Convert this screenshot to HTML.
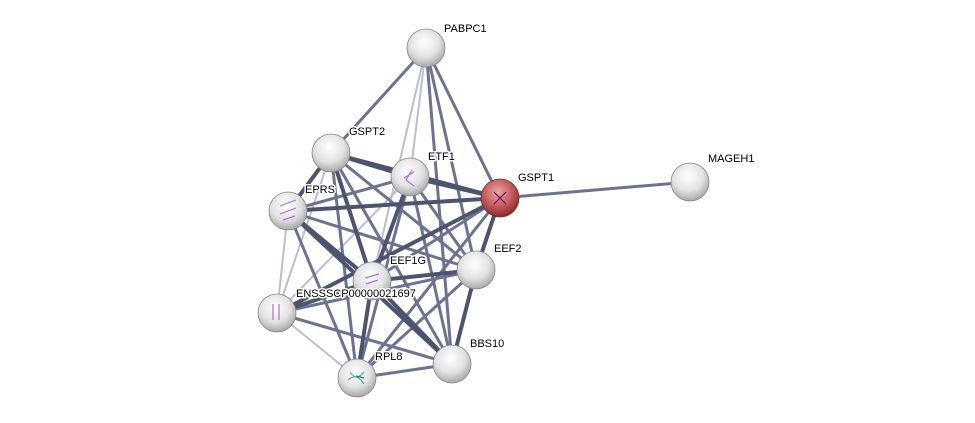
<!DOCTYPE html>
<html><head><meta charset="utf-8"><style>
html,body{margin:0;padding:0;background:#fff;}
svg{display:block;}
text{font-family:"Liberation Sans",sans-serif;font-size:11px;fill:#000;}
</style></head><body>
<svg width="975" height="423" viewBox="0 0 975 423" xmlns="http://www.w3.org/2000/svg">
<defs>
<radialGradient id="g" cx="45%" cy="35%" r="65%">
<stop offset="0" stop-color="#ffffff"/><stop offset="0.6" stop-color="#e2e2e2"/><stop offset="1" stop-color="#a8a8a8"/>
</radialGradient>
<radialGradient id="r" cx="45%" cy="35%" r="65%">
<stop offset="0" stop-color="#e9a6a6"/><stop offset="0.6" stop-color="#c25858"/><stop offset="1" stop-color="#8a2a2a"/>
</radialGradient>
</defs>
<g stroke-linecap="round">
<!-- light edges -->
<g stroke="#b9bfcf" stroke-width="2">
<line x1="426" y1="48" x2="410" y2="177"/>
<line x1="426" y1="48" x2="372" y2="281"/>
<line x1="288" y1="211" x2="277" y2="313"/>
<line x1="277" y1="313" x2="357" y2="378"/>
<line x1="277" y1="313" x2="410" y2="177"/>
<line x1="331" y1="153" x2="277" y2="313"/>
</g>
<g stroke="#6c7390" stroke-width="3">
<line x1="426" y1="48" x2="331" y2="153"/>
<line x1="426" y1="48" x2="500" y2="198"/>
<line x1="426" y1="48" x2="476" y2="270"/>
<line x1="426" y1="48" x2="452" y2="364"/>
<line x1="277" y1="313" x2="452" y2="364"/>
<line x1="277" y1="313" x2="476" y2="270"/>
<line x1="277" y1="313" x2="500" y2="198"/>
<line x1="357" y1="378" x2="476" y2="270"/>
<line x1="357" y1="378" x2="500" y2="198"/>
<line x1="357" y1="378" x2="452" y2="364"/>
<line x1="372" y1="281" x2="500" y2="198"/>
<line x1="410" y1="177" x2="452" y2="364"/>
<line x1="410" y1="177" x2="476" y2="270"/>
<line x1="331" y1="153" x2="452" y2="364"/>
<line x1="331" y1="153" x2="476" y2="270"/>
<line x1="288" y1="211" x2="476" y2="270"/>
<line x1="288" y1="211" x2="357" y2="378"/>
<line x1="410" y1="177" x2="357" y2="378"/>
<line x1="331" y1="153" x2="357" y2="378"/>
<line x1="500" y1="198" x2="690" y2="182"/>
<line x1="288" y1="211" x2="410" y2="177"/>
</g>
<g stroke="#4d546f" stroke-width="4">
<line x1="331" y1="153" x2="410" y2="177"/>
<line x1="331" y1="153" x2="500" y2="198"/>
<line x1="331" y1="153" x2="288" y2="211"/>
<line x1="331" y1="153" x2="372" y2="281"/>
<line x1="410" y1="177" x2="500" y2="198"/>
<line x1="410" y1="177" x2="372" y2="281"/>
<line x1="288" y1="211" x2="500" y2="198"/>
<line x1="288" y1="211" x2="372" y2="281"/>
<line x1="288" y1="211" x2="452" y2="364"/>
<line x1="500" y1="198" x2="476" y2="270"/>
<line x1="476" y1="270" x2="452" y2="364"/>
<line x1="372" y1="281" x2="476" y2="270"/>
<line x1="372" y1="281" x2="452" y2="364"/>
<line x1="372" y1="281" x2="357" y2="378"/>
<line x1="372" y1="281" x2="277" y2="313"/>
<line x1="500" y1="198" x2="277" y2="313"/>
</g>
</g>
<g stroke="#888" stroke-width="0.8">
<circle cx="426" cy="48" r="19" fill="url(#g)"/>
<circle cx="331" cy="153" r="19" fill="url(#g)"/>
<circle cx="410" cy="177" r="19" fill="url(#g)"/>
<circle cx="500" cy="198" r="19" fill="url(#r)" stroke="#7a2a2a"/>
<circle cx="690" cy="182" r="19" fill="url(#g)"/>
<circle cx="288" cy="211" r="19" fill="url(#g)"/>
<circle cx="476" cy="270" r="19" fill="url(#g)"/>
<circle cx="372" cy="281" r="19" fill="url(#g)"/>
<circle cx="277" cy="313" r="19" fill="url(#g)"/>
<circle cx="452" cy="364" r="19" fill="url(#g)"/>
<circle cx="357" cy="378" r="19" fill="url(#g)"/>
</g>
<g fill="none" stroke-width="1.2">
<path d="M280 206 l16 -6 M280 214 l16 -6 M283 220 l12 -4" stroke="#b070d8"/>
<path d="M412 170 l-6 10 l8 6 M404 178 l10 -6" stroke="#b070d8"/>
<path d="M365 278 l14 -4 M366 284 l12 -4" stroke="#b070d8"/>
<path d="M273 304 v16 M279 304 v16" stroke="#b070d8"/>
<path d="M494 192 l12 12 M506 192 l-12 12" stroke="#6a1070"/>
<path d="M350 372 q6 10 14 0 M348 380 q8 -8 16 4" stroke="#40c070"/>
<path d="M356 376 l8 2" stroke="#4060d0"/>
</g>
<g stroke="#fff" stroke-width="3" stroke-linejoin="round" paint-order="stroke">
<text x="444" y="32">PABPC1</text>
<text x="349" y="135">GSPT2</text>
<text x="428" y="160">ETF1</text>
<text x="518" y="181">GSPT1</text>
<text x="708" y="162">MAGEH1</text>
<text x="305" y="193">EPRS</text>
<text x="494" y="252">EEF2</text>
<text x="390" y="264">EEF1G</text>
<text x="296" y="297">ENSSSCP00000021697</text>
<text x="470" y="347">BBS10</text>
<text x="375" y="360">RPL8</text>
</g>
</svg>
</body></html>
